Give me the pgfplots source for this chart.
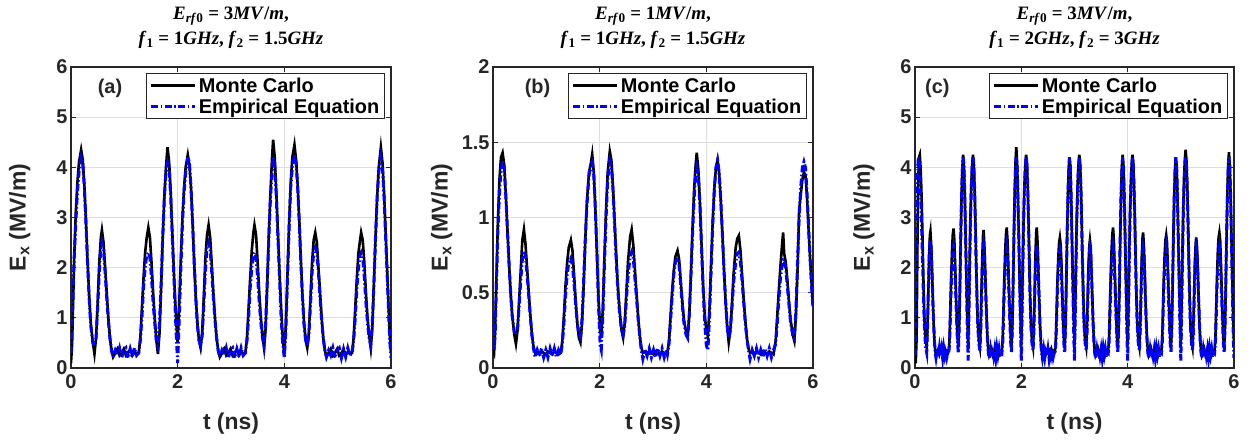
\documentclass[border=0pt]{standalone}
\usepackage{fontspec}
\setmainfont{Liberation Sans}
\newfontfamily\titlefont{Liberation Serif}
\usepackage{pgfplots}
\usepackage{pgfplotstable}
\pgfplotsset{compat=1.18}

% panel (a): Erf0 = 3 MV/m, f1 = 1 GHz, f2 = 1.5 GHz
\pgfplotstableread[row sep=\\]{
t mc emp\\
0.00 0.10 0.30\\ 0.02 0.45 0.90\\ 0.04 1.30 1.60\\ 0.06 2.20 2.20\\ 0.09 3.10 2.90\\ 0.12 3.70 3.50\\ 0.15 4.10 3.90\\ 0.19 4.35 4.20\\
0.22 4.15 4.10\\ 0.25 3.65 3.60\\ 0.28 2.95 2.90\\ 0.31 2.15 2.10\\ 0.34 1.45 1.40\\ 0.37 0.90 0.85\\ 0.41 0.50 0.50\\ 0.44 0.28 0.45\\
0.47 0.60 0.60\\ 0.50 1.30 1.20\\ 0.53 2.10 1.90\\ 0.56 2.60 2.40\\ 0.58 2.75 2.50\\ 0.61 2.50 2.35\\ 0.64 2.00 1.90\\ 0.67 1.50 1.40\\
0.70 1.00 0.95\\ 0.73 0.60 0.60\\ 0.76 0.35 0.35\\ 0.79 0.22 0.22\\ 0.83 0.30 0.35\\ 0.87 0.38 0.25\\ 0.91 0.25 0.40\\ 0.95 0.30 0.20\\
0.99 0.38 0.35\\ 1.03 0.25 0.40\\ 1.07 0.30 0.20\\ 1.11 0.37 0.38\\ 1.15 0.25 0.22\\ 1.19 0.32 0.40\\ 1.23 0.28 0.25\\ 1.27 0.30 0.30\\
1.30 0.60 0.55\\ 1.33 1.20 1.00\\ 1.36 1.80 1.60\\ 1.39 2.30 2.00\\ 1.42 2.60 2.25\\ 1.45 2.80 2.30\\ 1.48 2.60 2.20\\ 1.51 2.10 1.80\\
1.54 1.50 1.30\\ 1.57 1.00 0.90\\ 1.60 0.55 0.55\\ 1.63 0.28 0.45\\ 1.66 0.70 0.90\\ 1.69 1.60 1.70\\ 1.72 2.60 2.60\\ 1.75 3.40 3.40\\
1.78 4.00 3.90\\ 1.81 4.40 4.10\\ 1.84 4.10 4.00\\ 1.87 3.50 3.40\\ 1.90 2.70 2.60\\ 1.93 1.90 1.80\\ 1.96 1.20 1.00\\ 1.98 0.80 0.50\\
2.00 0.50 0.10\\
2.03 1.30 1.00\\ 2.06 2.20 2.00\\ 2.09 3.00 2.90\\ 2.12 3.60 3.50\\ 2.15 4.00 3.90\\ 2.19 4.25 4.20\\ 2.22 4.05 4.10\\ 2.25 3.60 3.60\\
2.28 2.90 2.90\\ 2.31 2.10 2.10\\ 2.34 1.40 1.40\\ 2.37 0.90 0.85\\ 2.40 0.55 0.55\\ 2.43 0.40 0.45\\ 2.46 0.70 0.65\\ 2.49 1.40 1.25\\
2.52 2.20 1.95\\ 2.55 2.65 2.40\\ 2.58 2.85 2.50\\ 2.61 2.60 2.35\\ 2.64 2.05 1.90\\ 2.67 1.50 1.40\\ 2.70 1.00 0.95\\ 2.73 0.60 0.60\\
2.76 0.35 0.35\\ 2.79 0.22 0.22\\ 2.83 0.30 0.35\\ 2.87 0.38 0.25\\ 2.91 0.25 0.40\\ 2.95 0.30 0.20\\ 2.99 0.38 0.35\\ 3.03 0.25 0.40\\
3.07 0.30 0.20\\ 3.11 0.37 0.38\\ 3.15 0.25 0.22\\ 3.19 0.32 0.40\\ 3.23 0.28 0.25\\ 3.27 0.30 0.30\\ 3.30 0.60 0.55\\ 3.33 1.20 1.00\\
3.36 1.80 1.60\\ 3.39 2.35 2.00\\ 3.42 2.70 2.25\\ 3.44 2.85 2.30\\ 3.47 2.65 2.20\\ 3.50 2.10 1.80\\ 3.53 1.50 1.30\\ 3.56 1.00 0.90\\
3.59 0.65 0.60\\ 3.62 0.40 0.45\\ 3.65 0.80 0.90\\ 3.68 1.70 1.70\\ 3.71 2.70 2.60\\ 3.74 3.50 3.40\\ 3.77 4.20 3.90\\ 3.79 4.55 4.20\\
3.82 4.20 4.05\\ 3.85 3.50 3.40\\ 3.88 2.70 2.60\\ 3.91 1.90 1.80\\ 3.94 1.20 1.00\\ 3.97 0.60 0.50\\ 4.00 0.25 0.20\\
4.03 0.90 0.80\\ 4.06 1.90 1.80\\ 4.09 2.90 2.80\\ 4.12 3.70 3.60\\ 4.15 4.20 4.00\\ 4.19 4.45 4.25\\ 4.22 4.15 4.10\\ 4.25 3.65 3.60\\
4.28 2.95 2.90\\ 4.31 2.15 2.10\\ 4.34 1.45 1.40\\ 4.37 0.90 0.85\\ 4.40 0.55 0.55\\ 4.43 0.40 0.45\\ 4.46 0.70 0.65\\ 4.49 1.40 1.25\\
4.52 2.10 1.90\\ 4.55 2.55 2.30\\ 4.58 2.70 2.40\\ 4.61 2.50 2.30\\ 4.64 2.00 1.90\\ 4.67 1.50 1.40\\ 4.70 1.00 0.95\\ 4.73 0.60 0.60\\
4.76 0.35 0.35\\ 4.79 0.22 0.22\\ 4.83 0.30 0.35\\ 4.87 0.38 0.25\\ 4.91 0.25 0.40\\ 4.95 0.30 0.20\\ 4.99 0.38 0.35\\ 5.03 0.25 0.40\\
5.07 0.30 0.20\\ 5.11 0.37 0.38\\ 5.15 0.25 0.22\\ 5.19 0.32 0.40\\ 5.23 0.28 0.25\\ 5.27 0.30 0.30\\ 5.30 0.60 0.55\\ 5.33 1.20 1.00\\
5.36 1.80 1.60\\ 5.39 2.30 2.00\\ 5.42 2.55 2.25\\ 5.44 2.70 2.30\\ 5.47 2.55 2.20\\ 5.50 2.10 1.80\\ 5.53 1.50 1.30\\ 5.56 1.00 0.90\\
5.59 0.65 0.60\\ 5.62 0.40 0.45\\ 5.65 0.80 0.90\\ 5.68 1.70 1.70\\ 5.71 2.60 2.60\\ 5.74 3.40 3.40\\ 5.77 4.00 3.90\\ 5.81 4.40 4.20\\
5.84 4.10 4.00\\ 5.87 3.50 3.40\\ 5.90 2.70 2.60\\ 5.93 1.90 1.80\\ 5.96 1.10 1.00\\ 5.98 0.60 0.50\\ 6.00 0.30 0.20\\
}\dataA

% panel (b): Erf0 = 1 MV/m, f1 = 1 GHz, f2 = 1.5 GHz
\pgfplotstableread[row sep=\\]{
t mc emp\\
0.00 0.12 0.35\\ 0.02 0.10 0.12\\ 0.04 0.25 0.22\\ 0.06 0.55 0.50\\ 0.09 0.95 0.90\\ 0.12 1.25 1.15\\ 0.15 1.40 1.32\\ 0.18 1.43 1.38\\
0.21 1.35 1.33\\ 0.24 1.15 1.15\\ 0.27 0.92 0.92\\ 0.30 0.70 0.70\\ 0.33 0.50 0.50\\ 0.36 0.35 0.35\\ 0.40 0.22 0.24\\ 0.43 0.16 0.22\\
0.46 0.25 0.25\\ 0.49 0.45 0.42\\ 0.52 0.65 0.58\\ 0.55 0.85 0.72\\ 0.58 0.92 0.78\\ 0.61 0.82 0.74\\ 0.64 0.66 0.62\\ 0.67 0.50 0.48\\
0.70 0.35 0.34\\ 0.73 0.22 0.22\\ 0.76 0.14 0.13\\ 0.79 0.10 0.07\\ 0.83 0.11 0.12\\ 0.87 0.09 0.08\\ 0.91 0.11 0.13\\ 0.95 0.10 0.07\\
0.99 0.09 0.12\\ 1.03 0.11 0.07\\ 1.07 0.10 0.13\\ 1.11 0.09 0.08\\ 1.15 0.11 0.13\\ 1.19 0.10 0.07\\ 1.23 0.09 0.12\\ 1.27 0.10 0.09\\
1.30 0.18 0.16\\ 1.33 0.35 0.30\\ 1.36 0.55 0.48\\ 1.39 0.70 0.62\\ 1.42 0.80 0.70\\ 1.46 0.85 0.73\\ 1.49 0.78 0.68\\ 1.52 0.62 0.56\\
1.55 0.45 0.42\\ 1.58 0.30 0.30\\ 1.61 0.20 0.22\\ 1.64 0.17 0.20\\ 1.67 0.30 0.33\\ 1.70 0.55 0.58\\ 1.73 0.85 0.85\\ 1.76 1.10 1.08\\
1.80 1.30 1.28\\ 1.83 1.35 1.35\\ 1.86 1.42 1.37\\ 1.89 1.30 1.28\\ 1.92 1.05 1.05\\ 1.95 0.75 0.75\\ 1.98 0.45 0.40\\ 2.01 0.25 0.15\\
2.03 0.20 0.12\\ 2.06 0.40 0.35\\ 2.09 0.75 0.70\\ 2.12 1.05 1.00\\ 2.15 1.30 1.25\\ 2.19 1.44 1.38\\ 2.22 1.38 1.35\\ 2.25 1.20 1.18\\
2.28 0.98 0.95\\ 2.31 0.75 0.72\\ 2.34 0.55 0.52\\ 2.37 0.40 0.38\\ 2.41 0.25 0.25\\ 2.44 0.20 0.22\\ 2.47 0.30 0.28\\ 2.50 0.50 0.45\\
2.53 0.70 0.60\\ 2.57 0.87 0.74\\ 2.60 0.92 0.77\\ 2.63 0.82 0.73\\ 2.66 0.66 0.60\\ 2.69 0.50 0.47\\ 2.72 0.35 0.33\\ 2.75 0.22 0.22\\
2.78 0.14 0.12\\ 2.81 0.10 0.06\\ 2.85 0.11 0.12\\ 2.89 0.09 0.08\\ 2.93 0.11 0.13\\ 2.97 0.10 0.07\\ 3.01 0.09 0.12\\ 3.05 0.11 0.07\\
3.09 0.10 0.13\\ 3.13 0.09 0.08\\ 3.17 0.11 0.13\\ 3.21 0.10 0.07\\ 3.25 0.09 0.12\\ 3.27 0.10 0.09\\ 3.30 0.18 0.16\\ 3.33 0.35 0.32\\
3.36 0.52 0.48\\ 3.39 0.65 0.62\\ 3.42 0.74 0.70\\ 3.46 0.78 0.73\\ 3.49 0.72 0.68\\ 3.52 0.58 0.55\\ 3.55 0.44 0.42\\ 3.58 0.32 0.30\\
3.62 0.24 0.22\\ 3.65 0.21 0.20\\ 3.68 0.35 0.35\\ 3.71 0.62 0.60\\ 3.74 0.92 0.88\\ 3.77 1.18 1.12\\ 3.80 1.35 1.28\\ 3.82 1.43 1.33\\
3.85 1.32 1.28\\ 3.88 1.10 1.08\\ 3.91 0.82 0.80\\ 3.94 0.55 0.52\\ 3.97 0.35 0.30\\ 4.00 0.25 0.15\\ 4.03 0.21 0.12\\ 4.06 0.40 0.35\\
4.09 0.70 0.65\\ 4.12 0.98 0.95\\ 4.15 1.20 1.18\\ 4.18 1.33 1.33\\ 4.21 1.38 1.38\\ 4.24 1.30 1.30\\ 4.27 1.12 1.12\\ 4.30 0.90 0.90\\
4.33 0.66 0.66\\ 4.36 0.45 0.45\\ 4.39 0.28 0.28\\ 4.42 0.17 0.20\\ 4.45 0.25 0.25\\ 4.48 0.42 0.40\\ 4.51 0.62 0.56\\ 4.55 0.80 0.70\\
4.58 0.86 0.76\\ 4.61 0.88 0.77\\ 4.64 0.78 0.70\\ 4.67 0.62 0.58\\ 4.70 0.46 0.44\\ 4.73 0.32 0.30\\ 4.76 0.20 0.20\\ 4.79 0.13 0.12\\
4.82 0.10 0.06\\ 4.86 0.11 0.12\\ 4.90 0.09 0.08\\ 4.94 0.11 0.13\\ 4.98 0.10 0.07\\ 5.02 0.09 0.12\\ 5.06 0.11 0.07\\ 5.10 0.10 0.13\\
5.14 0.09 0.08\\ 5.18 0.11 0.13\\ 5.22 0.10 0.07\\ 5.26 0.09 0.12\\ 5.30 0.18 0.16\\ 5.33 0.35 0.30\\ 5.36 0.52 0.46\\ 5.39 0.68 0.60\\
5.42 0.82 0.68\\ 5.44 0.90 0.72\\ 5.46 0.76 0.72\\ 5.49 0.70 0.66\\ 5.52 0.58 0.54\\ 5.55 0.44 0.42\\ 5.58 0.32 0.30\\ 5.62 0.22 0.22\\
5.65 0.18 0.20\\ 5.68 0.35 0.38\\ 5.71 0.65 0.70\\ 5.74 1.05 1.00\\ 5.77 1.15 1.20\\ 5.80 1.25 1.33\\ 5.83 1.30 1.37\\ 5.86 1.28 1.33\\
5.89 1.12 1.15\\ 5.92 0.90 0.92\\ 5.95 0.70 0.70\\ 5.98 0.52 0.50\\ 6.00 0.42 0.40\\
}\dataB

% panel (c): Erf0 = 3 MV/m, f1 = 2 GHz, f2 = 3 GHz
\pgfplotstableread[row sep=\\]{
t mc emp\\
0.000 0.10 0.25\\ 0.015 0.12 1.20\\ 0.030 0.60 2.60\\ 0.045 2.40 3.70\\ 0.060 3.70 4.20\\ 0.075 4.20 4.15\\ 0.090 4.25 3.90\\ 0.105 4.00 3.50\\
0.120 3.55 3.00\\ 0.135 2.90 2.40\\ 0.150 2.15 1.80\\ 0.165 1.45 1.20\\ 0.180 0.90 0.75\\ 0.200 0.55 0.40\\ 0.220 0.42 0.30\\ 0.235 0.80 0.80\\
0.250 1.50 1.50\\ 0.265 2.20 2.20\\ 0.280 2.65 2.50\\ 0.290 2.72 2.55\\ 0.305 2.45 2.35\\ 0.320 1.95 1.90\\ 0.335 1.40 1.35\\ 0.350 0.90 0.90\\
0.365 0.55 0.55\\ 0.380 0.35 0.30\\ 0.395 0.25 0.20\\ 0.420 0.32 0.38\\ 0.440 0.38 0.22\\ 0.460 0.27 0.40\\ 0.480 0.33 0.24\\ 0.500 0.37 0.38\\
0.520 0.26 0.20\\ 0.540 0.33 0.40\\ 0.560 0.38 0.25\\ 0.580 0.27 0.38\\ 0.600 0.33 0.22\\ 0.620 0.30 0.32\\ 0.635 0.35 0.30\\ 0.650 0.60 0.50\\
0.665 1.20 1.00\\ 0.680 1.80 1.60\\ 0.695 2.30 2.00\\ 0.710 2.65 2.25\\ 0.725 2.78 2.40\\ 0.740 2.55 2.25\\ 0.755 2.05 1.85\\ 0.770 1.50 1.35\\
0.785 1.00 0.90\\ 0.800 0.60 0.50\\ 0.815 0.42 0.30\\ 0.830 0.80 0.80\\ 0.845 1.60 1.70\\ 0.860 2.60 2.60\\ 0.875 3.40 3.40\\ 0.890 4.00 3.90\\
0.905 4.25 4.20\\ 0.920 4.05 4.05\\ 0.935 3.50 3.50\\ 0.950 2.70 2.70\\ 0.965 1.90 1.90\\ 0.980 1.20 1.00\\ 0.990 0.80 0.50\\
1.000 0.45 0.15\\ 1.015 1.30 1.10\\ 1.030 2.30 2.10\\ 1.045 3.10 3.00\\ 1.060 3.70 3.60\\ 1.075 4.05 4.00\\ 1.090 4.25 4.20\\ 1.105 4.10 4.05\\
1.120 3.65 3.60\\ 1.135 2.95 2.90\\ 1.150 2.15 2.10\\ 1.165 1.45 1.40\\ 1.180 0.90 0.85\\ 1.200 0.55 0.50\\ 1.220 0.42 0.35\\ 1.235 0.80 0.70\\
1.250 1.50 1.30\\ 1.265 2.20 2.00\\ 1.280 2.65 2.35\\ 1.290 2.75 2.45\\ 1.305 2.45 2.30\\ 1.320 1.95 1.85\\ 1.335 1.40 1.35\\ 1.350 0.90 0.90\\
1.365 0.55 0.55\\ 1.380 0.35 0.30\\ 1.395 0.25 0.20\\ 1.420 0.32 0.38\\ 1.440 0.38 0.22\\ 1.460 0.27 0.40\\ 1.480 0.33 0.24\\ 1.500 0.37 0.38\\
1.520 0.26 0.20\\ 1.540 0.33 0.40\\ 1.560 0.38 0.25\\ 1.580 0.27 0.38\\ 1.600 0.33 0.22\\ 1.620 0.30 0.32\\ 1.635 0.35 0.30\\ 1.650 0.60 0.50\\
1.665 1.20 1.00\\ 1.680 1.80 1.60\\ 1.695 2.30 2.00\\ 1.710 2.65 2.25\\ 1.725 2.80 2.40\\ 1.740 2.55 2.25\\ 1.755 2.05 1.85\\ 1.770 1.50 1.35\\
1.785 1.00 0.90\\ 1.800 0.60 0.50\\ 1.815 0.42 0.30\\ 1.830 0.80 0.80\\ 1.845 1.60 1.70\\ 1.860 2.60 2.60\\ 1.875 3.50 3.40\\ 1.890 4.10 3.90\\
1.905 4.40 4.20\\ 1.920 4.10 4.05\\ 1.935 3.50 3.50\\ 1.950 2.70 2.70\\ 1.965 1.90 1.90\\ 1.980 1.20 1.00\\ 1.990 0.80 0.50\\
2.000 0.45 0.15\\ 2.015 1.30 1.10\\ 2.030 2.30 2.10\\ 2.045 3.10 3.00\\ 2.060 3.70 3.60\\ 2.075 4.05 4.00\\ 2.090 4.25 4.20\\ 2.105 4.10 4.05\\
2.120 3.65 3.60\\ 2.135 2.95 2.90\\ 2.150 2.15 2.10\\ 2.165 1.45 1.40\\ 2.180 0.90 0.85\\ 2.200 0.55 0.50\\ 2.220 0.42 0.35\\ 2.235 0.80 0.70\\
2.250 1.50 1.30\\ 2.265 2.25 2.00\\ 2.280 2.70 2.35\\ 2.290 2.80 2.45\\ 2.305 2.50 2.30\\ 2.320 1.95 1.85\\ 2.335 1.40 1.35\\ 2.350 0.90 0.90\\
2.365 0.55 0.55\\ 2.380 0.35 0.30\\ 2.395 0.25 0.20\\ 2.420 0.32 0.38\\ 2.440 0.38 0.22\\ 2.460 0.27 0.40\\ 2.480 0.33 0.24\\ 2.500 0.37 0.38\\
2.520 0.26 0.20\\ 2.540 0.33 0.40\\ 2.560 0.38 0.25\\ 2.580 0.27 0.38\\ 2.600 0.33 0.22\\ 2.620 0.30 0.32\\ 2.635 0.35 0.30\\ 2.650 0.60 0.50\\
2.665 1.20 1.00\\ 2.680 1.75 1.60\\ 2.695 2.20 2.00\\ 2.710 2.50 2.25\\ 2.725 2.60 2.35\\ 2.740 2.45 2.25\\ 2.755 2.05 1.85\\ 2.770 1.50 1.35\\
2.785 1.00 0.90\\ 2.800 0.60 0.50\\ 2.815 0.42 0.30\\ 2.830 0.80 0.80\\ 2.845 1.60 1.70\\ 2.860 2.60 2.60\\ 2.875 3.40 3.40\\ 2.890 3.95 3.90\\
2.905 4.20 4.20\\ 2.920 4.05 4.05\\ 2.935 3.50 3.50\\ 2.950 2.70 2.70\\ 2.965 1.90 1.90\\ 2.980 1.20 1.00\\ 2.990 0.80 0.50\\
3.000 0.45 0.15\\ 3.015 1.30 1.10\\ 3.030 2.30 2.10\\ 3.045 3.10 3.00\\ 3.060 3.70 3.60\\ 3.075 4.05 4.00\\ 3.090 4.25 4.20\\ 3.105 4.10 4.05\\
3.120 3.65 3.60\\ 3.135 2.95 2.90\\ 3.150 2.15 2.10\\ 3.165 1.45 1.40\\ 3.180 0.90 0.85\\ 3.200 0.55 0.50\\ 3.220 0.42 0.35\\ 3.235 0.80 0.70\\
3.250 1.50 1.30\\ 3.265 2.10 2.00\\ 3.280 2.45 2.30\\ 3.290 2.55 2.40\\ 3.305 2.40 2.30\\ 3.320 1.95 1.85\\ 3.335 1.40 1.35\\ 3.350 0.90 0.90\\
3.365 0.55 0.55\\ 3.380 0.35 0.30\\ 3.395 0.25 0.20\\ 3.420 0.32 0.38\\ 3.440 0.38 0.22\\ 3.460 0.27 0.40\\ 3.480 0.33 0.24\\ 3.500 0.37 0.38\\
3.520 0.26 0.20\\ 3.540 0.33 0.40\\ 3.560 0.38 0.25\\ 3.580 0.27 0.38\\ 3.600 0.33 0.22\\ 3.620 0.30 0.32\\ 3.635 0.35 0.30\\ 3.650 0.60 0.50\\
3.665 1.20 1.00\\ 3.680 1.80 1.60\\ 3.695 2.30 2.00\\ 3.710 2.65 2.25\\ 3.725 2.80 2.40\\ 3.740 2.55 2.25\\ 3.755 2.05 1.85\\ 3.770 1.50 1.35\\
3.785 1.00 0.90\\ 3.800 0.60 0.50\\ 3.815 0.42 0.30\\ 3.830 0.80 0.80\\ 3.845 1.60 1.70\\ 3.860 2.60 2.60\\ 3.875 3.40 3.40\\ 3.890 4.00 3.90\\
3.905 4.25 4.20\\ 3.920 4.05 4.05\\ 3.935 3.50 3.50\\ 3.950 2.70 2.70\\ 3.965 1.90 1.90\\ 3.980 1.20 1.00\\ 3.990 0.80 0.50\\
4.000 0.45 0.15\\ 4.015 1.30 1.10\\ 4.030 2.30 2.10\\ 4.045 3.10 3.00\\ 4.060 3.70 3.60\\ 4.075 4.05 4.00\\ 4.090 4.25 4.20\\ 4.105 4.10 4.05\\
4.120 3.65 3.60\\ 4.135 2.95 2.90\\ 4.150 2.15 2.10\\ 4.165 1.45 1.40\\ 4.180 0.90 0.85\\ 4.200 0.55 0.50\\ 4.220 0.42 0.35\\ 4.235 0.80 0.70\\
4.250 1.50 1.30\\ 4.265 2.20 2.00\\ 4.280 2.60 2.30\\ 4.290 2.70 2.40\\ 4.305 2.45 2.30\\ 4.320 1.95 1.85\\ 4.335 1.40 1.35\\ 4.350 0.90 0.90\\
4.365 0.55 0.55\\ 4.380 0.35 0.30\\ 4.395 0.25 0.20\\ 4.420 0.32 0.38\\ 4.440 0.38 0.22\\ 4.460 0.27 0.40\\ 4.480 0.33 0.24\\ 4.500 0.37 0.38\\
4.520 0.26 0.20\\ 4.540 0.33 0.40\\ 4.560 0.38 0.25\\ 4.580 0.27 0.38\\ 4.600 0.33 0.22\\ 4.620 0.30 0.32\\ 4.635 0.35 0.30\\ 4.650 0.60 0.50\\
4.665 1.20 1.00\\ 4.680 1.80 1.60\\ 4.695 2.25 2.00\\ 4.710 2.55 2.25\\ 4.725 2.65 2.40\\ 4.740 2.50 2.25\\ 4.755 2.05 1.85\\ 4.770 1.50 1.35\\
4.785 1.00 0.90\\ 4.800 0.60 0.50\\ 4.815 0.42 0.30\\ 4.830 0.80 0.80\\ 4.845 1.60 1.70\\ 4.860 2.60 2.60\\ 4.875 3.40 3.40\\ 4.890 3.95 3.90\\
4.905 4.20 4.20\\ 4.920 4.05 4.05\\ 4.935 3.50 3.50\\ 4.950 2.70 2.70\\ 4.965 1.90 1.90\\ 4.980 1.20 1.00\\ 4.990 0.80 0.50\\
5.000 0.45 0.15\\ 5.015 1.30 1.10\\ 5.030 2.30 2.10\\ 5.045 3.15 3.00\\ 5.060 3.80 3.60\\ 5.075 4.15 4.00\\ 5.090 4.35 4.20\\ 5.105 4.15 4.05\\
5.120 3.65 3.60\\ 5.135 2.95 2.90\\ 5.150 2.15 2.10\\ 5.165 1.45 1.40\\ 5.180 0.90 0.85\\ 5.200 0.55 0.50\\ 5.220 0.42 0.35\\ 5.235 0.80 0.70\\
5.250 1.50 1.30\\ 5.265 2.15 2.00\\ 5.280 2.50 2.30\\ 5.290 2.60 2.40\\ 5.305 2.40 2.30\\ 5.320 1.95 1.85\\ 5.335 1.40 1.35\\ 5.350 0.90 0.90\\
5.365 0.55 0.55\\ 5.380 0.35 0.30\\ 5.395 0.25 0.20\\ 5.420 0.32 0.38\\ 5.440 0.38 0.22\\ 5.460 0.27 0.40\\ 5.480 0.33 0.24\\ 5.500 0.37 0.38\\
5.520 0.26 0.20\\ 5.540 0.33 0.40\\ 5.560 0.38 0.25\\ 5.580 0.27 0.38\\ 5.600 0.33 0.22\\ 5.620 0.30 0.32\\ 5.635 0.35 0.30\\ 5.650 0.60 0.50\\
5.665 1.20 1.00\\ 5.680 1.80 1.60\\ 5.695 2.30 2.00\\ 5.710 2.60 2.25\\ 5.725 2.70 2.40\\ 5.740 2.55 2.25\\ 5.755 2.05 1.85\\ 5.770 1.50 1.35\\
5.785 1.00 0.90\\ 5.800 0.60 0.50\\ 5.815 0.42 0.30\\ 5.830 0.80 0.80\\ 5.845 1.60 1.70\\ 5.860 2.60 2.60\\ 5.875 3.50 3.40\\ 5.890 4.05 3.90\\
5.905 4.30 4.20\\ 5.920 4.05 4.05\\ 5.935 3.50 3.50\\ 5.950 2.70 2.70\\ 5.965 1.90 1.90\\ 5.980 1.20 1.00\\ 5.990 0.80 0.50\\ 6.000 0.45 0.20\\
}\dataC

\pgfplotsset{
  panel/.style={
    scale only axis, width=320bp, height=301bp, anchor=south west,
    xmin=0, xmax=6, xtick={0,2,4,6}, ymin=0,
    grid=major, grid style={line width=0.9pt, black!13},
    axis line style={line width=1.3pt, black!85},
    tick style={line width=1.1pt, black!85}, tick align=inside, major tick length=5bp,
    ticklabel style={font=\fontsize{20}{24}\selectfont\bfseries, text=black!85},
    /pgf/number format/assume math mode=true,
    xticklabel style={yshift=-3bp},
    xlabel={t (ns)}, ylabel={E\textsubscript{x} (MV/m)},
    label style={font=\fontsize{23}{26}\selectfont\bfseries, text=black!85},
    xlabel style={at={(axis description cs:0.5,-0.183)}, anchor=center},
    ylabel style={at={(axis description cs:-0.16,0.5)}, anchor=center},
    title style={font=\titlefont\bfseries\fontsize{19}{25}\selectfont, align=center, at={(axis description cs:0.5,1)}, anchor=south, yshift=9bp},
    legend style={at={(axis description cs:0.981,0.98)}, anchor=north east,
      font=\fontsize{20}{24}\selectfont\bfseries, draw=black!85, line width=1.3pt,
      fill=white, inner xsep=3bp, inner ysep=2bp, row sep=1bp},
    legend cell align=left,
    legend image code/.code={\draw[#1] (0bp,0bp) -- (44bp,0bp);},
  },
  mc/.style={black, line width=2.6bp},
  emp/.style={blue, line width=3bp, dash pattern=on 7bp off 2.5bp on 1.5bp off 2.5bp},
}

\begin{document}
\begin{tikzpicture}
\useasboundingbox (0,0) rectangle (1252bp,440bp);

\begin{axis}[panel, at={(71bp,72bp)}, ymax=6, ytick={0,1,2,3,4,5,6},
  title={\textit{E}\textsubscript{\textit{rf}0} = 3\textit{MV}/\textit{m},\\\textit{f}\textsubscript{1} = 1\textit{GHz}, \textit{f}\textsubscript{2} = 1.5\textit{GHz}}]
\addplot[mc] table[x=t, y=mc] {\dataA};
\addlegendentry{Monte Carlo}
\addplot[emp] table[x=t, y=emp] {\dataA};
\addlegendentry{Empirical Equation}
\node[font=\fontsize{20}{24}\selectfont\bfseries, text=black!85] at (axis description cs:0.122,0.93) {(a)};
\end{axis}

\begin{axis}[panel, at={(493bp,72bp)}, ymax=2, ytick={0,0.5,1,1.5,2},
  title={\textit{E}\textsubscript{\textit{rf}0} = 1\textit{MV}/\textit{m},\\\textit{f}\textsubscript{1} = 1\textit{GHz}, \textit{f}\textsubscript{2} = 1.5\textit{GHz}}]
\addplot[mc] table[x=t, y=mc] {\dataB};
\addlegendentry{Monte Carlo}
\addplot[emp] table[x=t, y=emp] {\dataB};
\addlegendentry{Empirical Equation}
\node[font=\fontsize{20}{24}\selectfont\bfseries, text=black!85] at (axis description cs:0.139,0.93) {(b)};
\end{axis}

\begin{axis}[panel, at={(915bp,72bp)}, width=319bp, ymax=6, ytick={0,1,2,3,4,5,6},
  title={\textit{E}\textsubscript{\textit{rf}0} = 3\textit{MV}/\textit{m},\\\textit{f}\textsubscript{1} = 2\textit{GHz}, \textit{f}\textsubscript{2} = 3\textit{GHz}}]
\addplot[mc] table[x=t, y=mc] {\dataC};
\addlegendentry{Monte Carlo}
\addplot[emp] table[x=t, y=emp] {\dataC};
\addlegendentry{Empirical Equation}
\node[font=\fontsize{20}{24}\selectfont\bfseries, text=black!85] at (axis description cs:0.07,0.93) {(c)};
\end{axis}
\end{tikzpicture}
\end{document}
